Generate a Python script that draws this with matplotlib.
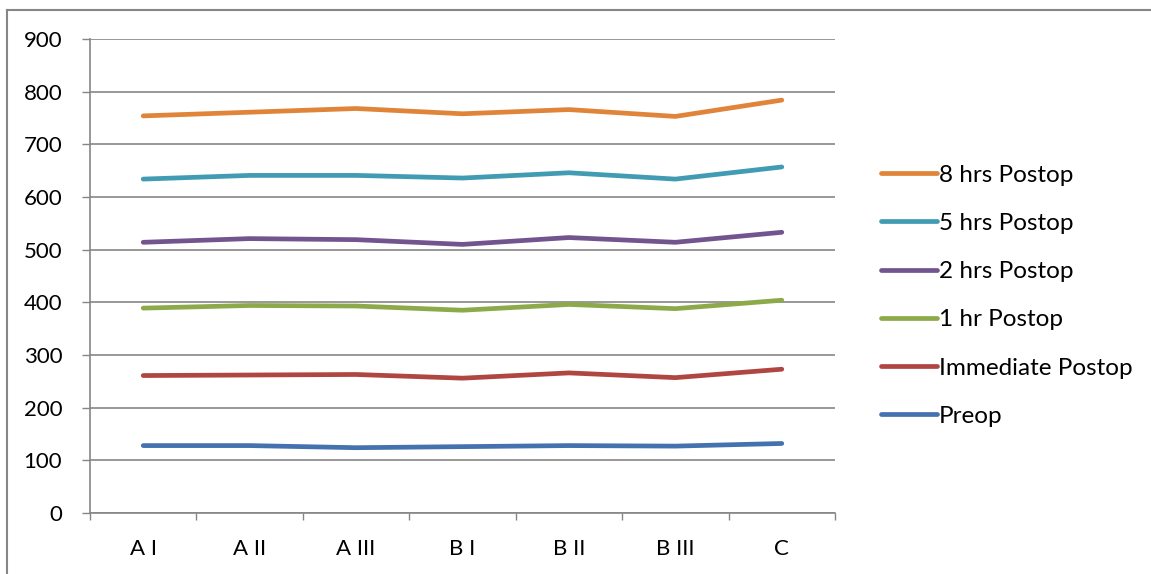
import matplotlib
matplotlib.use("Agg")
import matplotlib.pyplot as plt
from matplotlib.lines import Line2D

categories = ["A I", "A II", "A III", "B I", "B II", "B III", "C"]
preop = [128, 128, 124, 126, 128, 127, 132]
immediate = [261, 262, 263, 256, 266, 257, 273]
hr1 = [389, 394, 393, 385, 396, 388, 404]
hrs2 = [514, 521, 519, 510, 523, 514, 533]
hrs5 = [634, 641, 641, 636, 646, 634, 657]
hrs8 = [754, 761, 768, 758, 766, 753, 784]

series = [
    ("Preop", preop, "#4472AE"),
    ("Immediate Postop", immediate, "#B04642"),
    ("1 hr Postop", hr1, "#8DAA4B"),
    ("2 hrs Postop", hrs2, "#72548F"),
    ("5 hrs Postop", hrs5, "#419BB3"),
    ("8 hrs Postop", hrs8, "#E0843A"),
]

plt.rcParams['font.family'] = ['Lato', 'DejaVu Sans']
W, H = 1151, 574
fig = plt.figure(figsize=(W/100, H/100), dpi=100)
ax = fig.add_axes([90/W, 1-513/H, (835-90)/W, (513-39)/H])

x = list(range(len(categories)))
handles = []
for name, vals, col in series:
    ln, = ax.plot(x, vals, color=col, lw=3.4, solid_capstyle='round', label=name)
    handles.append(ln)

gc = '#868686'
fs = 16
lfs = 17.5
ax.set_ylim(0, 900)
ax.set_yticks(range(0, 901, 100))
ax.set_xlim(-0.5, len(categories)-0.5)
ax.set_xticks([i-0.5 for i in range(len(categories)+1)])
ax.set_xticklabels([])
ax.set_xticks(x, minor=True)
ax.set_xticklabels(categories, minor=True)
ax.tick_params(axis='x', which='minor', length=0, pad=19, labelsize=fs, labelcolor='black')
ax.tick_params(axis='x', which='major', length=5, color=gc, width=1)
ax.tick_params(axis='y', length=6, color=gc, width=1, labelsize=fs, pad=14)
ax.grid(axis='y', color=gc, lw=1.2)
ax.set_axisbelow(True)
for s in ['top', 'right']:
    ax.spines[s].set_visible(False)
for s in ['left', 'bottom']:
    ax.spines[s].set_color(gc)
    ax.spines[s].set_linewidth(1.2)

leg = fig.legend(handles[::-1], [h.get_label() for h in handles[::-1]],
                 loc='upper left', bbox_to_anchor=(871/W, 1-155/H),
                 frameon=False, fontsize=lfs, handlelength=2.3,
                 handletextpad=0.1, labelspacing=1.12, borderaxespad=0)

fig.add_artist(Line2D([7/W, 7/W], [0, 1-9.5/H], transform=fig.transFigure, color=gc, lw=1.5))
fig.add_artist(Line2D([7/W, 1], [1-9.5/H, 1-9.5/H], transform=fig.transFigure, color=gc, lw=1.5))
fig.savefig("out.png", dpi=100)
